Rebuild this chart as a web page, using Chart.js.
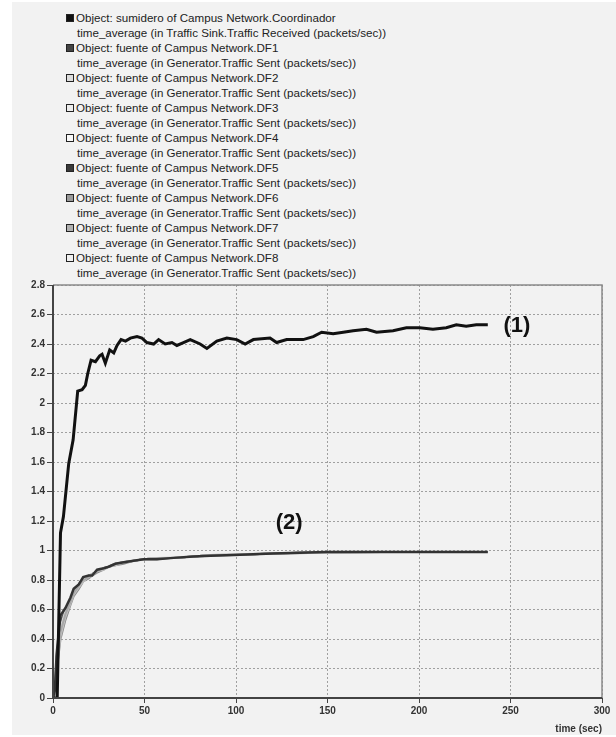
<!DOCTYPE html>
<html>
<head>
<meta charset="utf-8">
<script src="https://cdn.jsdelivr.net/npm/chart.js@4.4.1/dist/chart.umd.min.js"></script>
<style>
  html, body { margin: 0; padding: 0; background: #ffffff; }
  #wrap { position: relative; width: 616px; height: 737px; overflow: hidden; }
  #panel { position: absolute; left: 12px; top: 2px; width: 604px; height: 733px; background: #f2f2f2; }
  #chart { position: absolute; left: 0; top: 0; }
  #legend { position: absolute; left: 66px; top: 10px; font-family: "Liberation Sans", Arial, sans-serif; font-size: 11.6px; color: #222; line-height: 15px; }
  #legend .row { position: relative; height: 15px; white-space: nowrap; padding-left: 10px; }
  #legend .sw { position: absolute; left: 0; top: 4px; width: 6px; height: 6px; border: 1px solid #222; }
  #legend .sub { padding-left: 11px; height: 15px; white-space: nowrap; }
</style>
</head>
<body>
<div id="wrap">
  <div id="panel"></div>
  <div id="legend"></div>
  <canvas id="chart" width="616" height="737"></canvas>
</div>
<script>
// ---------- data ----------
const seriesNames = [
  "Object: sumidero of Campus Network.Coordinador",
  "Object: fuente of Campus Network.DF1",
  "Object: fuente of Campus Network.DF2",
  "Object: fuente of Campus Network.DF3",
  "Object: fuente of Campus Network.DF4",
  "Object: fuente of Campus Network.DF5",
  "Object: fuente of Campus Network.DF6",
  "Object: fuente of Campus Network.DF7",
  "Object: fuente of Campus Network.DF8"
];
const seriesStats = [
  "time_average (in Traffic Sink.Traffic Received (packets/sec))",
  "time_average (in Generator.Traffic Sent (packets/sec))",
  "time_average (in Generator.Traffic Sent (packets/sec))",
  "time_average (in Generator.Traffic Sent (packets/sec))",
  "time_average (in Generator.Traffic Sent (packets/sec))",
  "time_average (in Generator.Traffic Sent (packets/sec))",
  "time_average (in Generator.Traffic Sent (packets/sec))",
  "time_average (in Generator.Traffic Sent (packets/sec))",
  "time_average (in Generator.Traffic Sent (packets/sec))"
];
const seriesColors = ["#111111", "#333333", "#a8a8a8", "#c4c4c4", "#d8d8d8", "#555555", "#8a8a8a", "#9a9a9a", "#cfcfcf"];
const swatchColors = ["#111111", "#444444", "#dcdcdc", "#ececec", "#f8f8f8", "#3a3a3a", "#9a9a9a", "#b0b0b0", "#f0f0f0"];

const timesSink = [0, 2.3, 4.1, 5.7, 8.6, 11, 13.5, 15.9, 17.7, 19, 20.8, 23.2, 25.5, 26.8, 28.6, 31, 33.2, 35, 37.2, 39.6,
  42.3, 45.9, 48.6, 51.3, 55, 57.7, 61.3, 65, 67.7, 71.3, 75, 80.4, 84.1, 89.5, 95, 100.4, 105, 109.5, 118.6, 122.2,
  127.7, 136.7, 142.2, 146.8, 153.1, 158.6, 164, 171.3, 176.8, 185.8, 193.1, 200.4, 207.6, 214.9, 220.4, 225.8, 231.3, 237.6];
const sinkValues = [0, 0, 1.12, 1.23, 1.59, 1.75, 2.08, 2.09, 2.12, 2.2, 2.29, 2.28, 2.32, 2.33, 2.27, 2.36, 2.34, 2.39, 2.43, 2.42,
  2.44, 2.45, 2.44, 2.41, 2.40, 2.43, 2.40, 2.41, 2.39, 2.41, 2.43, 2.40, 2.37, 2.42, 2.44, 2.43, 2.40, 2.43, 2.44, 2.41,
  2.43, 2.43, 2.45, 2.48, 2.47, 2.48, 2.49, 2.50, 2.48, 2.49, 2.51, 2.51, 2.50, 2.51, 2.53, 2.52, 2.53, 2.53];

const timesSrc = [0, 1, 2, 4.1, 6.8, 9.5, 11.3, 14.1, 16.5, 19.5, 21.4, 24.1, 27.7, 30.4, 34.1, 38.6, 44.1, 49.5, 56.8, 65.9,
  76.8, 86, 98.6, 120, 149.5, 180, 210, 237.6];
const df1 = [0, 0.05, 0.30, 0.56, 0.61, 0.68, 0.74, 0.77, 0.82, 0.83, 0.83, 0.87, 0.88, 0.89, 0.91, 0.92, 0.93, 0.94, 0.94, 0.95, 0.96, 0.965, 0.97, 0.98, 0.99, 0.99, 0.99, 0.99];
const df2 = [0, 0.04, 0.22, 0.45, 0.57, 0.65, 0.71, 0.76, 0.80, 0.82, 0.84, 0.86, 0.88, 0.89, 0.91, 0.92, 0.93, 0.94, 0.95, 0.95, 0.96, 0.97, 0.97, 0.98, 0.99, 0.99, 0.99, 0.99];
const df3 = [0, 0.03, 0.20, 0.42, 0.55, 0.64, 0.70, 0.75, 0.79, 0.82, 0.83, 0.86, 0.87, 0.89, 0.90, 0.92, 0.93, 0.94, 0.95, 0.95, 0.96, 0.97, 0.975, 0.98, 0.985, 0.99, 0.99, 0.99];
const df4 = [0, 0.06, 0.26, 0.48, 0.59, 0.66, 0.72, 0.76, 0.80, 0.83, 0.84, 0.86, 0.88, 0.89, 0.91, 0.92, 0.93, 0.94, 0.95, 0.955, 0.96, 0.97, 0.97, 0.98, 0.99, 0.99, 0.99, 0.99];
const df5 = [0, 0.05, 0.28, 0.52, 0.60, 0.67, 0.73, 0.77, 0.81, 0.83, 0.84, 0.86, 0.88, 0.89, 0.91, 0.92, 0.93, 0.94, 0.95, 0.95, 0.96, 0.97, 0.97, 0.98, 0.99, 0.99, 0.99, 0.99];
const df6 = [0, 0.02, 0.18, 0.40, 0.53, 0.63, 0.69, 0.74, 0.79, 0.81, 0.83, 0.85, 0.87, 0.89, 0.90, 0.91, 0.93, 0.94, 0.94, 0.95, 0.96, 0.965, 0.97, 0.98, 0.985, 0.99, 0.99, 0.99];
const df7 = [0, 0.04, 0.24, 0.47, 0.58, 0.66, 0.71, 0.76, 0.80, 0.82, 0.84, 0.86, 0.88, 0.89, 0.91, 0.92, 0.93, 0.94, 0.95, 0.95, 0.96, 0.97, 0.97, 0.98, 0.99, 0.99, 0.99, 0.99];
const df8 = [0, 0.03, 0.21, 0.44, 0.56, 0.65, 0.70, 0.75, 0.80, 0.82, 0.83, 0.86, 0.87, 0.89, 0.90, 0.92, 0.93, 0.94, 0.95, 0.95, 0.96, 0.97, 0.975, 0.98, 0.99, 0.99, 0.99, 0.99];

const xTicks = [0, 50, 100, 150, 200, 250, 300];
const yTicks = [0, 0.2, 0.4, 0.6, 0.8, 1, 1.2, 1.4, 1.6, 1.8, 2, 2.2, 2.4, 2.6, 2.8];
const xTitle = "time (sec)";

const noteTexts = ["(1)", "(2)"];
const noteX = [253.5, 129];
const noteY = [2.52, 1.19];

// ---------- legend (HTML) ----------
const legendEl = document.getElementById('legend');
seriesNames.forEach((name, i) => {
  const row = document.createElement('div');
  row.className = 'row';
  const sw = document.createElement('span');
  sw.className = 'sw';
  sw.style.background = swatchColors[i];
  row.appendChild(sw);
  row.appendChild(document.createTextNode(name));
  legendEl.appendChild(row);
  const sub = document.createElement('div');
  sub.className = 'sub';
  sub.textContent = seriesStats[i];
  legendEl.appendChild(sub);
});

// ---------- chart ----------
const srcSeries = [df1, df2, df3, df4, df5, df6, df7, df8];
const datasets = [];
datasets.push({
  label: seriesNames[0],
  data: timesSink.map((t, k) => ({ x: t, y: sinkValues[k] })),
  borderColor: seriesColors[0],
  borderWidth: 3,
  pointRadius: 0,
  tension: 0
});
srcSeries.forEach((arr, j) => {
  datasets.push({
    label: seriesNames[j + 1],
    data: timesSrc.map((t, k) => ({ x: t, y: arr[k] })),
    borderColor: seriesColors[j + 1],
    borderWidth: j === 0 ? 2.5 : 2,
    pointRadius: 0,
    tension: 0
  });
});

const frameAndNotes = {
  id: 'frameAndNotes',
  afterDatasetsDraw(chart) {
    const { ctx, chartArea: a, scales } = chart;
    ctx.save();
    ctx.setLineDash([]);
    ctx.strokeStyle = '#8a8a8a';
    ctx.lineWidth = 1.5;
    ctx.beginPath();
    ctx.moveTo(a.left, a.top);
    ctx.lineTo(a.right, a.top);
    ctx.lineTo(a.right, a.bottom);
    ctx.stroke();
    ctx.strokeStyle = '#444';
    ctx.lineWidth = 2;
    ctx.beginPath();
    ctx.moveTo(a.left, a.top);
    ctx.lineTo(a.left, a.bottom);
    ctx.lineTo(a.right, a.bottom);
    ctx.stroke();
    ctx.fillStyle = '#111';
    ctx.font = 'bold 22px "Liberation Sans", Arial, sans-serif';
    ctx.textAlign = 'center';
    ctx.textBaseline = 'middle';
    noteTexts.forEach((t, i) => {
      ctx.fillText(t, scales.x.getPixelForValue(noteX[i]), scales.y.getPixelForValue(noteY[i]));
    });
    ctx.restore();
  }
};

const tickFont = { family: '"Liberation Sans", Arial, sans-serif', size: 10, weight: 'bold' };

new Chart(document.getElementById('chart'), {
  type: 'line',
  data: { datasets },
  plugins: [frameAndNotes],
  options: {
    responsive: false,
    animation: false,
    events: [],
    layout: { padding: { top: 285, right: 14, bottom: 2, left: 0 } },
    plugins: { legend: { display: false }, tooltip: { enabled: false } },
    scales: {
      x: {
        type: 'linear',
        min: 0, max: 300,
        afterBuildTicks(scale) { scale.ticks = xTicks.map(v => ({ value: v })); },
        ticks: { font: tickFont, color: '#333', padding: 2, maxRotation: 0 },
        grid: { color: '#a0a0a0', lineWidth: 1, tickColor: '#444', tickLength: 5, tickBorderDash: [] },
        border: { display: false, dash: [2, 2] },
        title: { display: true, text: xTitle, align: 'end', color: '#333', font: { family: '"Liberation Sans", Arial, sans-serif', size: 10, weight: 'bold' }, padding: { top: 4, bottom: 0 } }
      },
      y: {
        type: 'linear',
        min: 0, max: 2.8,
        afterBuildTicks(scale) { scale.ticks = yTicks.map(v => ({ value: v })); },
        afterFit(scale) { scale.width = 53; },
        ticks: { font: tickFont, color: '#333', padding: 2, callback: v => String(+v.toFixed(1)) },
        grid: { color: '#a0a0a0', lineWidth: 1, tickColor: '#444', tickLength: 6, tickBorderDash: [] },
        border: { display: false, dash: [2, 2] }
      }
    }
  }
});
</script>
</body>
</html>
